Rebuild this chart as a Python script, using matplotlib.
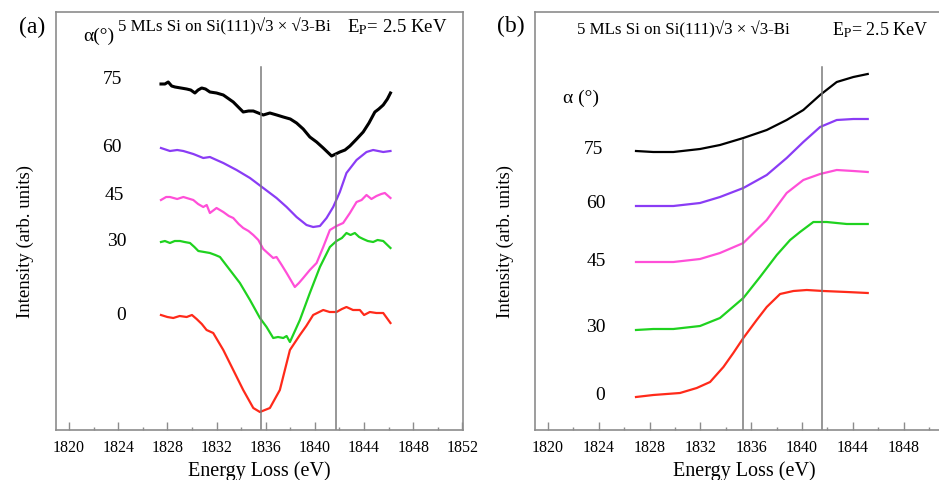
import matplotlib
matplotlib.use('Agg')
import matplotlib.pyplot as plt
from matplotlib.ticker import MultipleLocator, FixedLocator

plt.rcParams['font.family'] = ['Liberation Serif', 'DejaVu Serif']
plt.rcParams['mathtext.fontset'] = 'stix'

angles = ['75', '60', '45', '30', '0']
colors = ['black', '#8a3cf5', '#ff4fd8', '#1fd21f', '#ff2a1a']

# ---- panel (a): loss spectra ----
ea_black = [1827.48, 1827.80, 1828.07, 1828.35, 1828.62, 1829.10, 1829.57, 1829.90, 1830.24, 1830.50,
            1830.79, 1831.10, 1831.46, 1832.00, 1832.55, 1833.36, 1834.17, 1834.60, 1834.99, 1835.40,
            1835.80, 1836.34, 1836.90, 1837.43, 1838.00, 1838.51, 1839.05, 1839.59, 1840.14, 1840.68,
            1841.36, 1842.03, 1842.45, 1842.85, 1843.40, 1843.93, 1844.40, 1844.88, 1845.20, 1845.56,
            1845.90, 1846.15]
ia_black = [346, 346, 348, 344, 343, 342, 341, 340, 337, 340,
            342, 341, 338, 337, 335, 328, 318, 319, 319, 317,
            315, 317, 315, 313, 311, 307, 301, 293, 288, 282,
            274, 278, 280, 284, 291, 298, 307, 318, 321, 325,
            331, 337]

ea_purple = [1827.48, 1828.21, 1828.80, 1829.30, 1830.11, 1830.92, 1831.46, 1832.00, 1832.55, 1833.63,
             1834.72, 1835.80, 1836.88, 1837.70, 1838.51, 1839.32, 1839.86, 1840.41, 1840.95, 1841.49,
             1842.03, 1842.57, 1843.39, 1844.20, 1844.74, 1845.56, 1846.15]
ia_purple = [282, 279, 280, 279, 276, 272, 273, 270, 267, 260,
             252, 242, 232, 223, 213, 205, 203, 204, 212, 223,
             238, 257, 270, 278, 280, 278, 279]

ea_magenta = [1827.48, 1827.90, 1828.21, 1828.80, 1829.30, 1830.11, 1830.50, 1830.92, 1831.20, 1831.46,
              1832.00, 1832.55, 1833.00, 1833.36, 1833.80, 1834.17, 1834.60, 1834.99, 1835.40, 1835.80,
              1836.61, 1836.88, 1837.30, 1837.70, 1838.37, 1838.70, 1839.05, 1839.59, 1840.14, 1840.68,
              1841.22, 1841.76, 1842.30, 1842.85, 1843.39, 1843.80, 1844.20, 1844.60, 1845.01, 1845.40,
              1845.69, 1846.15]
ia_magenta = [230, 233, 233, 231, 233, 230, 226, 223, 225, 217,
              222, 218, 214, 212, 206, 202, 199, 195, 190, 181,
              172, 173, 165, 157, 143, 147, 152, 160, 167, 183,
              200, 204, 207, 217, 228, 230, 235, 231, 234, 236,
              237, 232]

ea_green = [1827.48, 1827.80, 1828.21, 1828.60, 1829.03, 1829.40, 1829.84, 1830.20, 1830.52, 1831.00,
            1831.46, 1831.90, 1832.28, 1833.09, 1833.90, 1834.72, 1835.53, 1836.07, 1836.61, 1837.00,
            1837.43, 1837.70, 1837.97, 1838.78, 1839.59, 1840.41, 1841.22, 1841.76, 1842.20, 1842.57,
            1842.90, 1843.25, 1843.60, 1843.93, 1844.30, 1844.74, 1845.10, 1845.56, 1846.15]
ia_green = [188, 189, 187, 189, 189, 188, 187, 183, 179, 178,
            177, 175, 173, 160, 147, 130, 112, 103, 92, 93,
            92, 94, 88, 110, 137, 163, 183, 189, 192, 197,
            195, 197, 193, 191, 189, 188, 190, 189, 182]

ea_red = [1827.48, 1828.00, 1828.48, 1829.00, 1829.57, 1830.00, 1830.38, 1830.80, 1831.19, 1831.73,
          1832.55, 1833.36, 1834.17, 1834.99, 1835.53, 1836.34, 1837.15, 1837.97, 1838.78, 1839.30,
          1839.86, 1840.68, 1841.20, 1841.76, 1842.20, 1842.57, 1843.10, 1843.66, 1844.00, 1844.47,
          1845.00, 1845.56, 1846.15]
ia_red = [115, 113, 112, 114, 113, 115, 111, 106, 100, 97,
          80, 60, 40, 22, 18, 22, 40, 80, 95, 104,
          115, 120, 118, 118, 121, 123, 120, 120, 115, 118,
          117, 117, 107]

# ---- panel (b): integrated spectra ----
eb_black = [1826.93, 1828.29, 1829.87, 1831.97, 1833.54, 1835.38, 1837.22, 1838.79, 1840.10, 1841.42,
            1842.73, 1844.04, 1845.17]
ib_black = [279, 278, 278, 281, 285, 292, 300, 310, 320, 335, 348, 353, 356]

eb_purple = [1826.93, 1828.29, 1829.87, 1831.97, 1833.54, 1835.38, 1837.22, 1838.79, 1840.10, 1841.42,
             1842.73, 1844.04, 1845.17]
ib_purple = [224, 224, 224, 227, 233, 242, 255, 272, 288, 303, 310, 311, 311]

eb_magenta = [1826.93, 1828.29, 1829.87, 1831.97, 1833.54, 1835.38, 1837.22, 1838.79, 1840.10, 1841.42,
              1842.73, 1844.04, 1845.17]
ib_magenta = [168, 168, 168, 171, 177, 187, 210, 237, 250, 256, 260, 259, 258]

eb_green = [1826.93, 1828.29, 1829.87, 1831.97, 1833.54, 1835.38, 1836.69, 1838.01, 1839.06, 1839.84,
            1840.89, 1841.94, 1843.52, 1845.17]
ib_green = [100, 101, 101, 104, 112, 132, 153, 175, 190, 198, 208, 208, 206, 206]

eb_red = [1826.93, 1828.29, 1830.39, 1831.71, 1832.76, 1833.81, 1834.59, 1835.38, 1836.43, 1837.22,
          1838.27, 1839.32, 1840.37, 1841.68, 1843.52, 1845.17]
ib_red = [33, 35, 37, 42, 48, 63, 77, 92, 110, 123, 136, 139, 140, 139, 138, 137]

xticks_a = [1820, 1824, 1828, 1832, 1836, 1840, 1844, 1848, 1852]
xticks_b = [1820, 1824, 1828, 1832, 1836, 1840, 1844, 1848]

spine_col = '#8c8c8c'
vline_col = '#7a7a7a'

fig = plt.figure(figsize=(9.39, 4.8), dpi=100)
ax1 = fig.add_axes([56 / 939, 50 / 480, 407 / 939, 418 / 480])
ax2 = fig.add_axes([535 / 939, 50 / 480, 419.5 / 939, 418 / 480])

for ax, xl, tk in [(ax1, (1818.94, 1852.05), xticks_a), (ax2, (1818.98, 1852.0), xticks_b)]:
    ax.set_xlim(*xl)
    ax.set_ylim(0, 418)
    ax.set_yticks([])
    ax.xaxis.set_major_locator(FixedLocator(tk))
    ax.xaxis.set_minor_locator(MultipleLocator(2))
    ax.tick_params(axis='x', which='major', direction='in', length=6, width=1, color=spine_col,
                   labelsize=11.5, pad=7)
    ax.tick_params(axis='x', which='minor', direction='in', length=2.5, width=1, color=spine_col)
    for s in ax.spines.values():
        s.set_color(spine_col)
        s.set_linewidth(1.2)
    ax.set_xlabel('Energy Loss (eV)', fontsize=14.5, labelpad=4)

# panel (a)
ax1.plot(ea_black, ia_black, color=colors[0], lw=2.2)
ax1.plot(ea_purple, ia_purple, color=colors[1], lw=1.6)
ax1.plot(ea_magenta, ia_magenta, color=colors[2], lw=1.6)
ax1.plot(ea_green, ia_green, color=colors[3], lw=1.6)
ax1.plot(ea_red, ia_red, color=colors[4], lw=1.6)
ax1.plot([1835.6, 1835.6], [0, 363], color=vline_col, lw=1.1)
ax1.plot([1841.7, 1841.7], [0, 275], color=vline_col, lw=1.1)
for lab, (x, y) in zip(angles, [(1823.5, 350), (1823.5, 282), (1823.7, 234), (1823.85, 188), (1824.2, 115)]):
    ax1.text(x, y, lab, fontsize=14, ha='center', va='center')

# panel (b)
ax2.plot(eb_black, ib_black, color=colors[0], lw=1.6)
ax2.plot(eb_purple, ib_purple, color=colors[1], lw=1.6)
ax2.plot(eb_magenta, ib_magenta, color=colors[2], lw=1.6)
ax2.plot(eb_green, ib_green, color=colors[3], lw=1.6)
ax2.plot(eb_red, ib_red, color=colors[4], lw=1.6)
ax2.plot([1835.35, 1835.35], [0, 290], color=vline_col, lw=1.1)
ax2.plot([1841.6, 1841.6], [0, 363], color=vline_col, lw=1.1)
for lab, (x, y) in zip(angles, [(1823.6, 281), (1823.8, 226), (1823.8, 169), (1823.8, 103), (1824.1, 35)]):
    ax2.text(x, y, lab, fontsize=14, ha='center', va='center')
ax2.text(1822.6, 332, 'α (°)', fontsize=14, ha='center', va='center')

# headers and labels
def ftext(x, y, s, **kw):
    fig.text(x / 939, 1 - y / 480, s, **kw)

header = '5 MLs Si on Si(111)√3 × √3-Bi'
ep = r'E$_{\rm P}$= 2.5 KeV'
ftext(32, 27, '(a)', fontsize=17, ha='center', va='center')
ftext(511, 26, '(b)', fontsize=17, ha='center', va='center')
ftext(99, 36, 'α(°)', fontsize=14, ha='center', va='center')
ftext(118, 27, header, fontsize=12.2, ha='left', va='center')
ftext(347, 27, ep, fontsize=13.5, ha='left', va='center')
ftext(577, 30, header, fontsize=12.2, ha='left', va='center')
ftext(832, 30, ep, fontsize=13, ha='left', va='center')
ftext(25, 242, 'Intensity (arb. units)', fontsize=13.5, rotation=90, ha='center', va='center')
ftext(505, 242, 'Intensity (arb. units)', fontsize=13.5, rotation=90, ha='center', va='center')

fig.savefig('out.png', dpi=100)
